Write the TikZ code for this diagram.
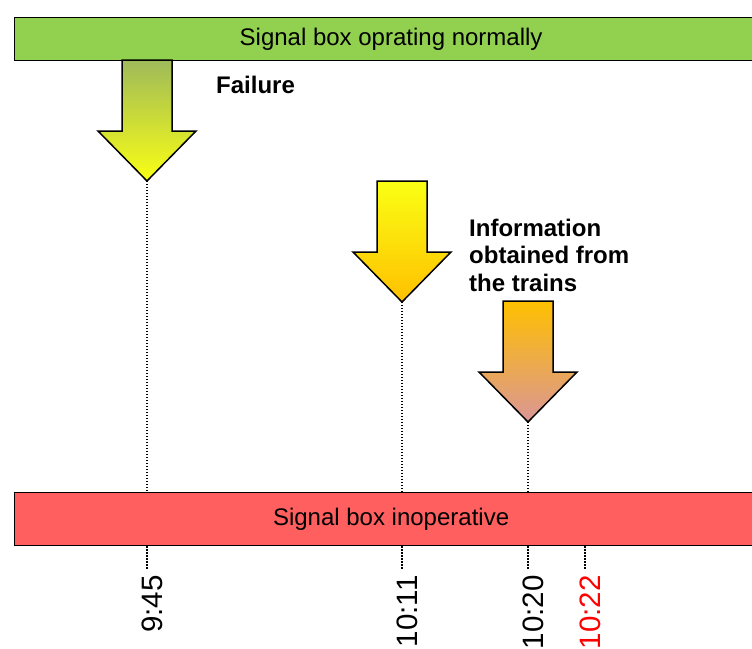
\documentclass[tikz,border=0pt]{standalone}
\usepackage{fontspec}
\setmainfont{Liberation Sans}
\usetikzlibrary{calc,positioning}
\definecolor{lgreen}{RGB}{146,208,80}
\definecolor{inopred}{RGB}{255,95,95}
\definecolor{olive}{RGB}{158,186,90}
\definecolor{yel}{RGB}{250,255,20}
\definecolor{gold}{RGB}{255,192,0}
\definecolor{rose}{RGB}{218,150,150}

\begin{document}
\begin{tikzpicture}[x=1pt,y=-1pt,
  bar/.style={draw,line width=1.2pt,anchor=north west,inner sep=0,font=\fontsize{24}{28}\selectfont},
  note/.style={anchor=north west,inner sep=0,align=left,font=\bfseries\fontsize{24}{27.3}\selectfont},
  tick/.style={dash pattern=on 1.3pt off 1.7pt,line width=1.3pt},
  time/.style={rotate=90,anchor=east,inner sep=0,font=\fontsize{29.5}{30}\selectfont}]
\clip (0,0) rectangle (752,648);
\node[bar,fill=lgreen,minimum width=753,minimum height=43] (normal) at (14,17) {Signal box oprating normally};
\node[bar,fill=inopred,minimum width=753,minimum height=53] (inop) at (14,492) {Signal box inoperative};
% block arrows, tip named
\foreach \n/\x/\y/\ca/\cb in {fail/147/60/olive/yel,info/402/181/yel/gold,trains/528/301/gold/rose}{
  \shade[top color=\ca,bottom color=\cb,draw,line width=1.5pt,line join=miter]
    (\x-25,\y) -- ++(0,71) -- ++(-24,0) -- ++(49,50) -- ++(49,-50) -- ++(-24,0) -- ++(0,-71) -- cycle;
  \coordinate (\n) at (\x,\y+121);
}
\coordinate (last) at (585,0);
\node[note] (failtxt) at (216,75.5) {Failure};
\node[note] (infotxt) at (469,219) {Information\\obtained from\\the trains};
\foreach \a in {fail,info,trains} \draw[tick] (\a) -- (\a |- inop.north);
\foreach \n/\a/\t/\c in {t945/fail/9:45/black,t1011/info/10:11/black,t1020/trains/10:20/black,t1022/last/10:22/red}{
  \draw[tick] (\a |- inop.south) -- ++(0,23);
  \node[time,text=\c] (\n) at ($(\a |- inop.south)+(5.5,29)$) {\t};
}
\end{tikzpicture}
\end{document}
